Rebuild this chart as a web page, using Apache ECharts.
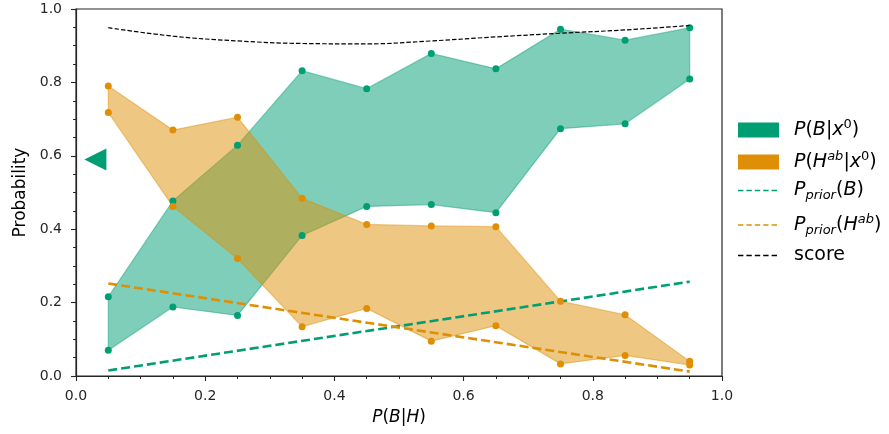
<!DOCTYPE html>
<html><head><meta charset="utf-8">
<script src="https://cdn.jsdelivr.net/npm/echarts@6/dist/echarts.min.js"></script>
<style>html,body{margin:0;padding:0;background:#fff}#c{width:889px;height:434px}</style>
</head><body><div id="c"></div>
<script>
// ---- data ----
const xs      = [0.05, 0.15, 0.25, 0.35, 0.45, 0.55, 0.65, 0.75, 0.85, 0.95];
const bUpper  = [0.216, 0.477, 0.629, 0.832, 0.783, 0.879, 0.837, 0.945, 0.915, 0.949];
const bLower  = [0.070, 0.188, 0.165, 0.383, 0.462, 0.467, 0.445, 0.674, 0.687, 0.809];
const hUpper  = [0.790, 0.670, 0.705, 0.484, 0.413, 0.409, 0.407, 0.204, 0.167, 0.040];
const hLower  = [0.718, 0.462, 0.320, 0.134, 0.184, 0.095, 0.137, 0.033, 0.056, 0.030];
const priorX  = [0.05, 0.95];
const priorB  = [0.015, 0.257];
const priorH  = [0.252, 0.012];
const score   = [0.949, 0.926, 0.913, 0.906, 0.905, 0.913, 0.924, 0.934, 0.943, 0.955];
const marker  = [0.03, 0.59];
const xTickStep = 0.2;
const yTickStep = 0.2;

const GREEN = '#009E73', ORANGE = '#DE8F05';
const FONT = 'DejaVu Sans';
const zip = (a, b) => a.map((v, i) => [v, b[i]]);

function band(name, color, fill, stroke, lo, hi, z) {
  return {
    type: 'custom', name: name, z: z,
    data: xs.map((x, i) => [x, lo[i], hi[i]]),
    encode: { x: 0, y: [1, 2] },
    itemStyle: { color: color },
    clip: true,
    renderItem: function (params, api) {
      if (params.dataIndex !== 0) return null;
      const pts = [];
      for (let j = 0; j < xs.length; j++) pts.push(api.coord([xs[j], hi[j]]));
      for (let j = xs.length - 1; j >= 0; j--) pts.push(api.coord([xs[j], lo[j]]));
      return { type: 'polygon', shape: { points: pts },
        style: { fill: fill, stroke: stroke, lineWidth: 1.2 } };
    }
  };
}
function dots(name, color, data, z) {
  return { type: 'scatter', name: name, data: data, symbol: 'circle', symbolSize: 7,
    itemStyle: { color: color, opacity: 1 }, z: z, silent: true };
}

const FS = 19, FSS = 13;
function makeRich(sp) {
  return {
    i:   { fontFamily: FONT, fontStyle: 'italic', fontSize: FS, color: '#000', lineHeight: 24 },
    r:   { fontFamily: FONT, fontSize: FS, color: '#000', lineHeight: 24 },
    sup: { fontFamily: FONT, fontSize: FSS, color: '#000', lineHeight: 12, verticalAlign: 'top' },
    supi:{ fontFamily: FONT, fontStyle: 'italic', fontSize: FSS, color: '#000', lineHeight: 12, verticalAlign: 'top' },
    sub: { fontFamily: FONT, fontStyle: 'italic', fontSize: FSS, color: '#000', lineHeight: 10, verticalAlign: 'bottom' },
    s:   { width: sp, fontSize: FS, lineHeight: 24 }
  };
}
const labels = {
  PB: '{s| }{i|P}{r|(}{i|B}{r||}{i|x}{sup|0}{r|)}',
  PH: '{s| }{i|P}{r|(}{i|H}{supi|ab}{r||}{i|x}{sup|0}{r|)}',
  priorB: '{s| }{i|P}{sub|prior}{r|(}{i|B}{r|)}',
  priorH: '{s| }{i|P}{sub|prior}{r|(}{i|H}{supi|ab}{r|)}',
  score: '{s| }{r|score}'
};
const dashIcon = 'path://M0 0h5.4v1.5h-5.4z M8.4 0h5.4v1.5h-5.4z M16.8 0h5.4v1.5h-5.4z M25.2 0h5.4v1.5h-5.4z M33.6 0h5.4v1.5h-5.4z';
function leg(name, top, icon, w, h, sp) {
  return { show: true, left: 738, top: top, padding: 0, orient: 'vertical',
    itemWidth: w, itemHeight: h, selectedMode: false,
    data: [{ name: name, icon: icon }],
    formatter: n => labels[n],
    textStyle: { rich: makeRich(sp), fontFamily: FONT, fontSize: FS } };
}

const axisCommon = {
  type: 'value', min: 0, max: 1,
  axisLine: { show: true, onZero: false, lineStyle: { color: '#262626', width: 1.2 } },
  axisTick: { show: true, inside: false, length: 5, lineStyle: { color: '#262626', width: 1.1 } },
  minorTick: { show: true, splitNumber: 4, length: 3, lineStyle: { color: '#262626', width: 1 } },
  splitLine: { show: false }, minorSplitLine: { show: false },
  axisLabel: { fontFamily: FONT, fontSize: 14, color: '#262626', formatter: v => v.toFixed(1), showMinLabel: true, showMaxLabel: true }
};

const chart = echarts.init(document.getElementById('c'), null, { renderer: 'canvas' });
chart.setOption({
  animation: false,
  backgroundColor: '#fff',
  grid: { left: 76, right: 167, top: 9, bottom: 58, show: true, borderColor: '#262626', borderWidth: 1.2, backgroundColor: 'transparent' },
  xAxis: Object.assign({}, axisCommon, {
    interval: xTickStep,
    axisLabel: Object.assign({}, axisCommon.axisLabel, { margin: 13 }),
    name: '{i|P}{r|(}{i|B}{r||}{i|H}{r|)}', nameLocation: 'middle', nameGap: 33,
    nameTextStyle: { rich: {
      i: { fontFamily: FONT, fontStyle: 'italic', fontSize: 17, color: '#000' },
      r: { fontFamily: FONT, fontSize: 17, color: '#000' } } }
  }),
  yAxis: Object.assign({}, axisCommon, {
    interval: yTickStep,
    axisLabel: Object.assign({}, axisCommon.axisLabel, { margin: 14 }),
    name: 'Probability', nameLocation: 'middle', nameGap: 46,
    nameTextStyle: { fontFamily: FONT, fontSize: 17, color: '#000' }
  }),
  legend: [
    leg('PB', 118, 'rect', 41, 15, 10),
    leg('PH', 150, 'rect', 41, 15, 10),
    leg('priorB', 181, dashIcon, 39, 1.5, 12),
    leg('priorH', 213, dashIcon, 39, 1.5, 12),
    leg('score', 246, dashIcon, 39, 1.5, 12)
  ],
  series: [
    band('PB', GREEN, 'rgba(0,158,115,0.5)', 'rgba(0,158,115,0.45)', bLower, bUpper, 1),
    band('PH', ORANGE, 'rgba(222,143,5,0.5)', 'rgba(222,143,5,0.45)', hLower, hUpper, 2),
    { type: 'line', name: 'priorB', data: zip(priorX, priorB), symbol: 'none', z: 3,
      itemStyle: { color: GREEN }, lineStyle: { color: GREEN, width: 2.6, type: [9, 4] } },
    { type: 'line', name: 'priorH', data: zip(priorX, priorH), symbol: 'none', z: 3,
      itemStyle: { color: ORANGE }, lineStyle: { color: ORANGE, width: 2.6, type: [9, 4] } },
    dots('PBdotsU', GREEN, zip(xs, bUpper), 4),
    dots('PBdotsL', GREEN, zip(xs, bLower), 4),
    dots('PHdotsU', ORANGE, zip(xs, hUpper), 5),
    dots('PHdotsL', ORANGE, zip(xs, hLower), 5),
    { type: 'line', name: 'score', data: zip(xs, score), symbol: 'none', smooth: 0.4, z: 6,
      itemStyle: { color: '#000' }, lineStyle: { color: '#000', width: 1.2, type: [4.5, 2] } },
    { type: 'scatter', name: 'marker', data: [marker], symbol: 'path://M0 5L10 0L10 10Z',
      symbolSize: [22, 22], itemStyle: { color: GREEN, opacity: 1 }, z: 7, clip: false }
  ]
});
</script></body></html>
